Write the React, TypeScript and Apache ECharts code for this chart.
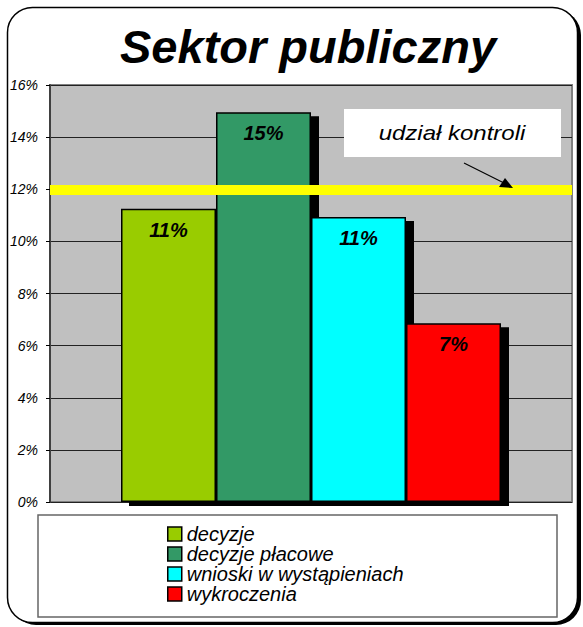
import React, { useEffect, useRef } from "react";
import * as echarts from "echarts";

const categories = [""];
const seriesNames = ["decyzje", "decyzje płacowe", "wnioski w wystąpieniach", "wykroczenia"];
const seriesValues = [11.25, 14.95, 10.94, 6.86];
const seriesColors = ["#99CC00", "#339966", "#00FFFF", "#FF0000"];
const controlShare = 12;
const yTicks = { min: 0, max: 16, interval: 2 };
const titleText = "Sektor publiczny";
const annotationText = "udział kontroli";

const FONT = "'Liberation Sans', Arial, sans-serif";

export default function App() {
  const ref = useRef<HTMLDivElement>(null);
  useEffect(() => {
    document.body.style.margin = "0";
    if (!ref.current) return;
    const chart = echarts.init(ref.current, null, { renderer: "svg" });
    const series: any[] = seriesNames.map((name, i) => ({
      type: "bar",
      name,
      data: [seriesValues[i]],
      barWidth: 95,
      barGap: "0%",
      itemStyle: {
        color: seriesColors[i],
        borderColor: "#000",
        borderWidth: 1.5,
        shadowColor: "#000",
        shadowBlur: 0,
        shadowOffsetX: 8,
        shadowOffsetY: 4,
      },
      label: {
        show: true,
        position: "insideTop",
        distance: 11,
        formatter: (p: any) => `${Math.round(p.value)}%`,
        fontFamily: FONT,
        fontSize: 20,
        fontWeight: "bold",
        fontStyle: "italic",
        color: "#000",
      },
    }));
    series[series.length - 1].markLine = {
      silent: true,
      symbol: "none",
      label: { show: false },
      lineStyle: { color: "#FFFF00", width: 10, type: "solid" },
      data: [{ yAxis: controlShare }],
      z: 10,
    };
    chart.setOption({
      animation: false,
      backgroundColor: "#fff",
      textStyle: { fontFamily: FONT },
      title: {
        text: titleText,
        left: 120,
        top: 23,
        padding: 0,
        textStyle: {
          fontFamily: FONT,
          fontSize: 47,
          fontWeight: "bold",
          fontStyle: "italic",
          color: "#000",
        },
      },
      graphic: [
        {
          type: "rect",
          z: -10,
          shape: { x: 11, y: 10, width: 570, height: 615, r: 25 },
          style: { fill: "#000" },
        },
        {
          type: "rect",
          z: -9,
          shape: { x: 7.5, y: 7.5, width: 570, height: 615, r: 25 },
          style: { fill: "#fff", stroke: "#000", lineWidth: 1.5 },
        },
        {
          type: "rect",
          z: -8,
          shape: { x: 38, y: 515, width: 519, height: 102 },
          style: { fill: "#fff", stroke: "#666", lineWidth: 1.5 },
        },
        {
          type: "rect",
          z: 50,
          shape: { x: 344, y: 109, width: 217, height: 48 },
          style: { fill: "#fff" },
        },
        {
          type: "text",
          z: 51,
          x: 452,
          y: 133,
          scaleX: 1.2,
          style: {
            text: annotationText,
            fontFamily: FONT,
            fontSize: 20,
            fontStyle: "italic",
            fill: "#000",
            align: "center",
            verticalAlign: "middle",
          },
        },
        {
          type: "line",
          z: 51,
          shape: { x1: 464, y1: 163, x2: 506, y2: 184 },
          style: { stroke: "#000", lineWidth: 1.2 },
        },
        {
          type: "polygon",
          z: 51,
          shape: { points: [[513, 188], [499, 187], [505, 178]] },
          style: { fill: "#000" },
        },
      ],
      legend: {
        orient: "vertical",
        left: 167,
        top: 524,
        itemWidth: 14,
        itemHeight: 14,
        itemGap: 0,
        icon: "rect",
        itemStyle: { borderColor: "#000", borderWidth: 1.5, shadowBlur: 0, shadowOffsetX: 0, shadowOffsetY: 0, shadowColor: "transparent" },
        padding: 0,
        textStyle: {
          fontFamily: FONT,
          fontSize: 20,
          lineHeight: 20,
          fontStyle: "italic",
          color: "#000",
        },
      },
      grid: {
        left: 50,
        right: 11,
        top: 85,
        bottom: 125,
        show: true,
        backgroundColor: "#C0C0C0",
        borderColor: "#808080",
        borderWidth: 2,
      },
      xAxis: {
        type: "category",
        data: categories,
        axisLine: { show: false },
        axisTick: { show: false },
        axisLabel: { show: false },
      },
      yAxis: {
        type: "value",
        min: yTicks.min,
        max: yTicks.max,
        interval: yTicks.interval,
        axisLine: { show: true, lineStyle: { color: "#404040", width: 2 } },
        axisTick: { show: true, length: 4, lineStyle: { color: "#000" } },
        axisLabel: {
          formatter: "{value}%",
          margin: 12,
          fontFamily: FONT,
          fontSize: 14,
          fontStyle: "italic",
          color: "#000",
        },
        splitLine: { show: true, lineStyle: { color: "#222", width: 1 } },
      },
      series,
    });
    return () => chart.dispose();
  }, []);
  return <div ref={ref} style={{ width: 583, height: 627 }} />;
}
